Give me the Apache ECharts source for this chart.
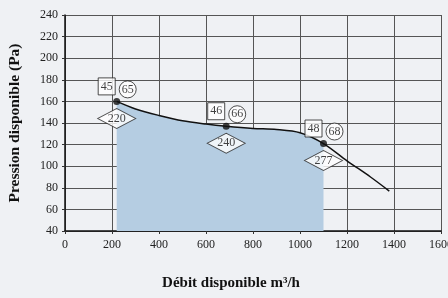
<!DOCTYPE html>
<html>
<head>
<meta charset="utf-8">
<script src="https://cdn.jsdelivr.net/npm/echarts@6/dist/echarts.min.js"></script>
<style>
  html, body { margin: 0; padding: 0; background: #eff1f4; }
  #chart { width: 448px; height: 298px; }
</style>
</head>
<body>
<div id="chart"></div>
<script>
// courbe débit / pression
var flow = [220, 300, 400, 500, 600, 686, 800, 900, 1000, 1100, 1200, 1300, 1380];
var pressure = [160, 153, 147, 142, 139, 137, 135, 134, 131, 121, 105, 90, 77];

// points de fonctionnement
var opFlow = [220, 686, 1100];
var opPressure = [160, 137, 121];
var boxLabels = ['45', '46', '48'];
var circleLabels = ['65', '66', '68'];
var diamondLabels = ['220', '240', '277'];

var xTicks = [0, 200, 400, 600, 800, 1000, 1200, 1400, 1600];
var yTicks = [40, 60, 80, 100, 120, 140, 160, 180, 200, 220, 240];

var fillEnd = 1100;

var myChart = echarts.init(document.getElementById('chart'));

var curve = flow.map(function (f, i) { return [f, pressure[i]]; });
var filled = curve.filter(function (p) { return p[0] <= fillEnd; });
var ops = opFlow.map(function (f, i) { return [f, opPressure[i]]; });

var serif = 'Liberation Serif';

function markerSeries(symbol, size, offset, labels) {
    return {
        type: 'scatter',
        symbol: symbol,
        symbolSize: size,
        symbolOffset: offset,
        z: 5,
        itemStyle: { color: '#fff', borderColor: '#222', borderWidth: 1 },
        label: {
            show: true,
            position: 'inside',
            color: '#111',
            fontFamily: serif,
            fontSize: 12,
            formatter: function (p) { return labels[p.dataIndex]; }
        },
        data: ops
    };
}

var option = {
    backgroundColor: '#eff1f4',
    animation: false,
    grid: { left: 65, right: 7, top: 15, bottom: 67, outerBoundsMode: 'none' },
    xAxis: {
        type: 'value',
        min: 0,
        max: 1600,
        interval: 200,
        name: 'Débit disponible m³/h',
        nameLocation: 'middle',
        nameGap: 45,
        nameTextStyle: {
            fontFamily: serif, fontWeight: 'bold', fontSize: 15, color: '#111',
            padding: [0, 44, 0, 0]
        },
        axisLine: { lineStyle: { color: '#111', width: 1.5 } },
        axisTick: { show: true, length: 3, lineStyle: { color: '#333' } },
        axisLabel: {
            fontFamily: serif, fontSize: 12, color: '#222', margin: 8,
            alignMaxLabel: 'center',
            formatter: function (v) { return xTicks.indexOf(v) >= 0 ? String(v) : ''; }
        },
        splitLine: { show: true, lineStyle: { color: '#555', width: 1 } }
    },
    yAxis: {
        type: 'value',
        min: 40,
        max: 240,
        interval: 20,
        name: 'Pression disponible (Pa)',
        nameLocation: 'middle',
        nameGap: 42,
        nameTextStyle: { fontFamily: serif, fontWeight: 'bold', fontSize: 15.5, color: '#111' },
        axisLine: { show: true, lineStyle: { color: '#111', width: 1.5 } },
        axisTick: { show: true, length: 3, lineStyle: { color: '#333' } },
        axisLabel: {
            fontFamily: serif, fontSize: 12, color: '#222', margin: 7,
            formatter: function (v) { return yTicks.indexOf(v) >= 0 ? String(v) : ''; }
        },
        splitLine: { show: true, lineStyle: { color: '#555', width: 1 } }
    },
    series: [
        {
            type: 'line',
            data: filled,
            smooth: 0.3,
            symbol: 'none',
            lineStyle: { width: 0 },
            areaStyle: { color: '#b5cde2', opacity: 1, origin: 'start' },
            z: 1
        },
        {
            type: 'line',
            data: curve,
            smooth: 0.3,
            symbol: 'none',
            lineStyle: { color: '#111', width: 1.5 },
            z: 3
        },
        {
            type: 'scatter',
            data: ops,
            symbol: 'circle',
            symbolSize: 7,
            itemStyle: { color: '#111' },
            z: 4
        },
        markerSeries('rect', [17, 17], [-10, -15], boxLabels),
        markerSeries('circle', [17, 17], [11, -12], circleLabels),
        markerSeries('diamond', [38, 20], [0, 17], diamondLabels)
    ]
};

myChart.setOption(option);
</script>
</body>
</html>
